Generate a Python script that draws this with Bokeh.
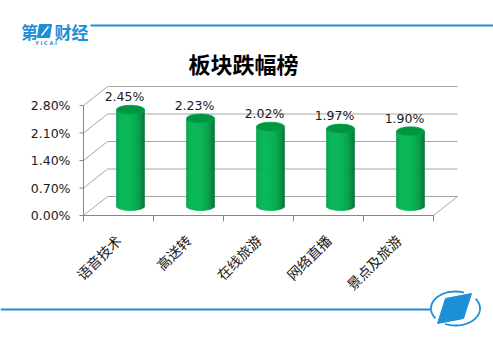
import numpy as np
from bokeh.plotting import figure
from bokeh.models import Range1d
from bokeh.embed import file_html
from bokeh.resources import INLINE
from bokeh.core.properties import value

# ---------------- data ----------------
categories = ["语音技术", "高送转", "在线旅游", "网络直播", "景点及旅游"]
values = [2.45, 2.23, 2.02, 1.97, 1.90]
value_labels = ["2.45%", "2.23%", "2.02%", "1.97%", "1.90%"]
y_ticks = [0.0, 0.7, 1.4, 2.1, 2.8]
y_tick_labels = ["0.00%", "0.70%", "1.40%", "2.10%", "2.80%"]
title_text = "板块跌幅榜"

# ---------------- layout helpers ----------------
W, H = 493, 351
X0_PX, Y0_PX = 83, 215          # front origin of plot area (px)
CAT_PX = 70.0                   # px per category
PCT_PX = 110.0 / 2.8            # px per 1 %


def dx(px):
    return (px - X0_PX) / CAT_PX


def dy(py):
    return (Y0_PX - py) / PCT_PX


DX = 24 / CAT_PX      # 3D depth offset
DY = 19 / PCT_PX
n = len(categories)
ymax = y_ticks[-1]

p = figure(width=W, height=H, x_range=Range1d(dx(0), dx(W)),
           y_range=Range1d(dy(H), dy(0)), output_backend="svg",
           toolbar_location=None, x_axis_location=None, y_axis_location=None,
           min_border=0)
p.grid.visible = False
p.outline_line_color = None
p.background_fill_color = "white"
p.border_fill_color = "white"

GRID = "#a6a6a6"
AXIS = "#868686"
BLUE = "#1c8fd6"

# back wall gridlines
p.segment(x0=[DX] * len(y_ticks), y0=[t + DY for t in y_ticks],
          x1=[n + DX] * len(y_ticks), y1=[t + DY for t in y_ticks],
          line_color=GRID, line_width=1)
# left side wall diagonals
p.segment(x0=[0] * len(y_ticks), y0=y_ticks,
          x1=[DX] * len(y_ticks), y1=[t + DY for t in y_ticks],
          line_color=GRID, line_width=1)
# floor right diagonal
p.segment(x0=[n], y0=[0], x1=[n + DX], y1=[DY], line_color=GRID, line_width=1)
# front axes
p.segment(x0=[0], y0=[0], x1=[0], y1=[ymax], line_color=AXIS, line_width=1)
p.segment(x0=[0], y0=[0], x1=[n], y1=[0], line_color=AXIS, line_width=1)
# y tick marks
p.segment(x0=[-4 / CAT_PX] * len(y_ticks), y0=y_ticks, x1=[0] * len(y_ticks),
          y1=y_ticks, line_color=AXIS, line_width=1)
# category tick marks
p.segment(x0=list(range(n + 1)), y0=[0] * (n + 1), x1=list(range(n + 1)),
          y1=[-6 / PCT_PX] * (n + 1), line_color=AXIS, line_width=1)

# y tick labels
p.text(x=[dx(70)] * len(y_ticks), y=y_ticks, text=y_tick_labels,
       text_align="right", text_baseline="middle",
       text_font=value("DejaVu Sans"), text_font_size="12.5px",
       text_color="#1a1a1a")

# ---------------- cylinders ----------------
BW = 28 / CAT_PX
EH = 9 / PCT_PX
NS = 28
edges = np.linspace(-1, 1, NS + 1)
mids = (edges[:-1] + edges[1:]) / 2
Lv = np.array([-0.35, 0.94])
Lv = Lv / np.linalg.norm(Lv)
base_rgb = np.array([0, 176, 80])


def shade(t):
    nv = np.array([t, np.sqrt(max(0.0, 1 - t * t))])
    d = max(0.0, float(nv @ Lv))
    k = 0.68 + 0.36 * d
    c = np.clip(base_rgb * k, 0, 255)
    return "#%02x%02x%02x" % tuple(int(v) for v in c)


strip_colors = [shade(t) for t in mids]
ql, qr, qt, qb, qc = [], [], [], [], []
cxs, tops, bases = [], [], []
for i, v in enumerate(values):
    cx = i + 0.5 + DX / 2
    b = DY / 2
    top = v + DY / 2
    cxs.append(cx)
    tops.append(top)
    bases.append(b)
    for k in range(NS):
        ql.append(cx + edges[k] * BW / 2)
        qr.append(cx + edges[k + 1] * BW / 2)
        qt.append(top)
        qb.append(b - (EH / 2) * np.sqrt(max(0.0, 1 - mids[k] ** 2)))
        qc.append(strip_colors[k])
p.quad(left=ql, right=qr, top=qt, bottom=qb, fill_color=qc, line_color=qc,
       line_width=0.6)
p.ellipse(x=cxs, y=tops, width=BW, height=EH, fill_color="#00953f",
          line_color="#00a84c", line_width=0.8)

# value labels
p.text(x=[i + 0.5 + 6 / CAT_PX for i in range(n)],
       y=[t + 13 / PCT_PX for t in tops], text=value_labels,
       text_align="center", text_baseline="middle",
       text_font=value("DejaVu Sans"), text_font_size="12.5px",
       text_color="#1a1a1a")

# category labels
p.text(x=[i + 0.5 for i in range(n)], y=[dy(237)] * n, text=categories,
       angle=np.pi / 4, text_align="right", text_baseline="middle",
       text_font=value("Noto Sans CJK SC"), text_font_size="14px",
       text_color="#1a1a1a")

# title
p.text(x=[dx(243)], y=[dy(62)], text=[title_text], text_align="center",
       text_baseline="middle", text_font=value("Noto Sans CJK SC"),
       text_font_size="22px", text_font_style="bold", text_color="#000000")

# ---------------- decoration: top logo & line ----------------
p.line(x=[dx(90), dx(W)], y=[dy(25), dy(25)], line_color=BLUE, line_width=2)
p.text(x=[dx(29), dx(71)], y=[dy(31), dy(31)], text=["第", "财经"],
       text_align="center", text_baseline="middle",
       text_font=value("Noto Sans CJK SC"), text_font_size="17px",
       text_font_style="bold", text_color=BLUE)
p.patch(x=[dx(39), dx(51), dx(49), dx(37)], y=[dy(24), dy(24), dy(37), dy(37)],
        fill_color=BLUE, line_color=BLUE)
p.line(x=[dx(41), dx(48)], y=[dy(35), dy(26)], line_color="white", line_width=1.5)
p.text(x=[dx(56)], y=[dy(42)], text=["Y    I    C    A    I"],
       text_align="center", text_baseline="middle",
       text_font=value("DejaVu Sans"), text_font_size="5px",
       text_font_style="bold", text_color=BLUE)

# ---------------- decoration: bottom line & logo ----------------
p.line(x=[dx(0), dx(430)], y=[dy(309), dy(309)], line_color=BLUE, line_width=2)
ang1 = np.linspace(np.radians(70), np.radians(215), 60)
ang2 = np.linspace(np.radians(245), np.radians(395), 60)
for ang in (ang1, ang2):
    ex = 455 + 24.5 * np.cos(ang)
    ey = 308 - 17 * np.sin(ang)
    p.line(x=[dx(v) for v in ex], y=[dy(v) for v in ey], line_color=BLUE,
           line_width=1.8)
p.patch(x=[dx(445), dx(471), dx(463), dx(437)],
        y=[dy(298), dy(293), dy(318), dy(323)], fill_color=BLUE,
        line_color=BLUE)

open("out.html", "w").write(file_html(p, INLINE))
